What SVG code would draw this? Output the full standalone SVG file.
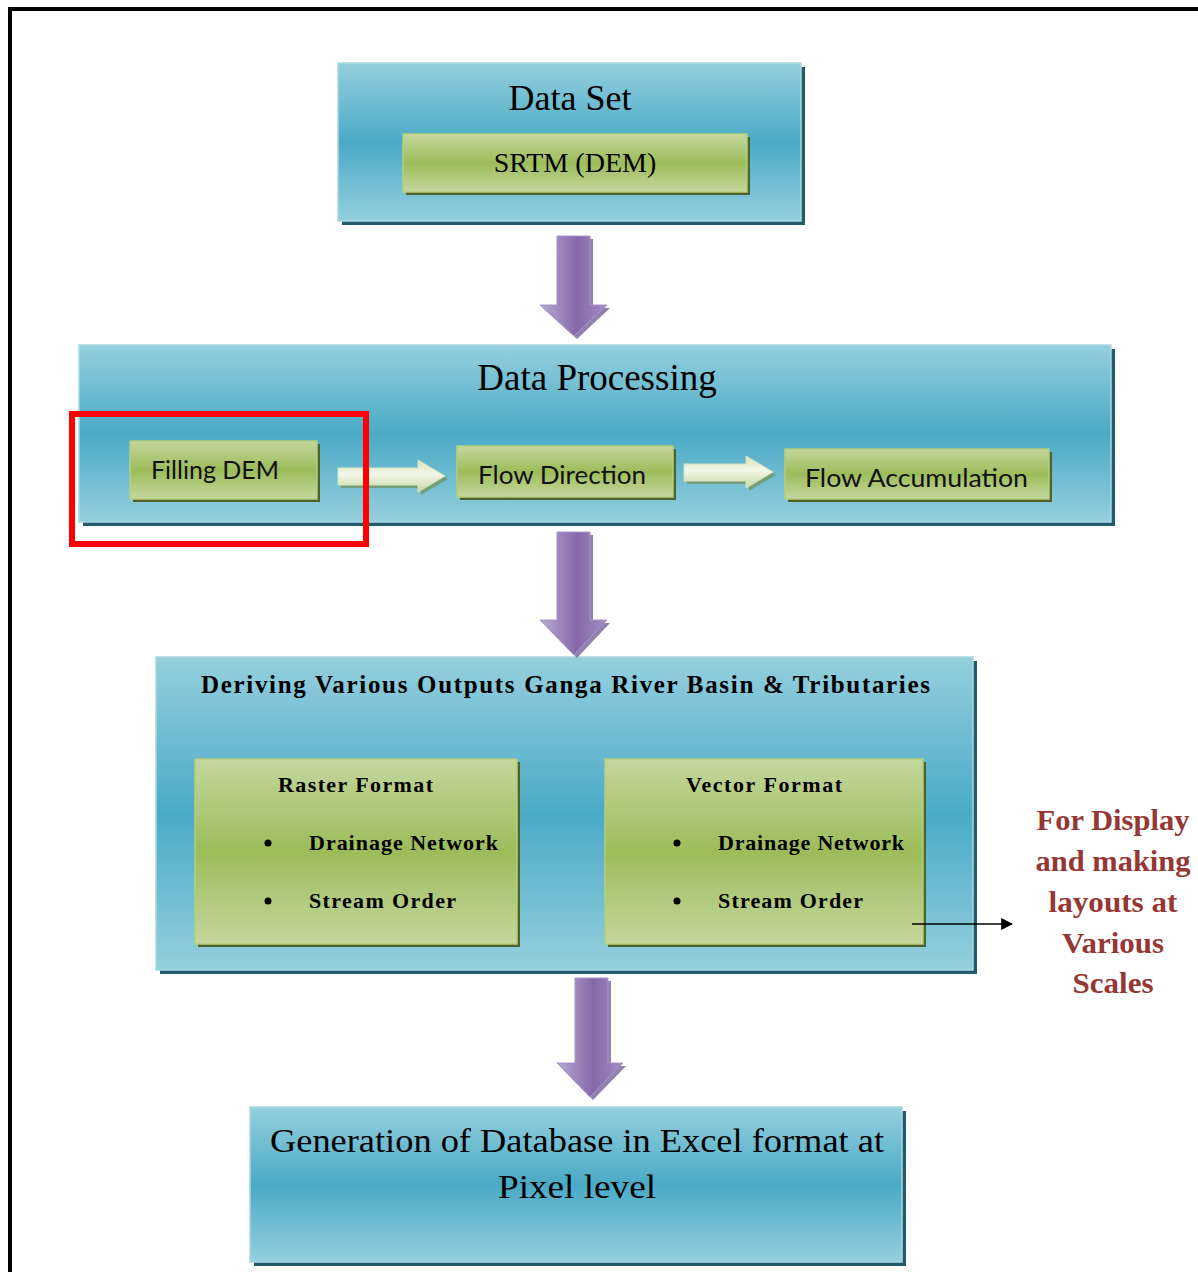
<svg xmlns="http://www.w3.org/2000/svg" width="1198" height="1272" viewBox="0 0 1198 1272">
<defs>
<linearGradient id="gBlue" x1="0" y1="0" x2="0" y2="1">
<stop offset="0" stop-color="#95cfde"/>
<stop offset="0.5" stop-color="#4aaac6"/>
<stop offset="1" stop-color="#95cfde"/>
</linearGradient>
<linearGradient id="gGreen" x1="0" y1="0" x2="0" y2="1">
<stop offset="0" stop-color="#c4d79e"/>
<stop offset="0.5" stop-color="#9cbc5a"/>
<stop offset="1" stop-color="#c4d79e"/>
</linearGradient>
<linearGradient id="gPurple" x1="0" y1="0" x2="1" y2="0">
<stop offset="0" stop-color="#b9a9d2"/>
<stop offset="0.55" stop-color="#8668aa"/>
<stop offset="1" stop-color="#a18ec4"/>
</linearGradient>
<linearGradient id="gLight" x1="0" y1="0" x2="0" y2="1">
<stop offset="0" stop-color="#d7e4bd"/>
<stop offset="0.45" stop-color="#f3f7ea"/>
<stop offset="1" stop-color="#c4d79e"/>
</linearGradient>
<marker id="mArrow" viewBox="0 0 10 10" refX="9" refY="5" markerWidth="12" markerHeight="12" orient="auto" markerUnits="userSpaceOnUse">
<path d="M0,0 L10,5 L0,10 z" fill="#000"/>
</marker>
</defs>
<style>
.blue{fill:url(#gBlue);stroke:#a9d7e4;stroke-width:1.5}
.bshadow{fill:#225b6a}
.green{fill:url(#gGreen);stroke:#b4cf7c;stroke-width:1.5}
.gshadow{fill:#4f6228}
.purple{fill:url(#gPurple);stroke:#a696c8;stroke-width:1}
.pshadow{fill:#6a5590;opacity:0.75}
.light{fill:url(#gLight);stroke:#d7e4bd;stroke-width:1}
.lshadow{fill:#6f8a3e;opacity:0.6}
.serif{font-family:"Liberation Serif","Times New Roman",serif;fill:#000}
.sans{font-family:Lato,"Liberation Sans",sans-serif;fill:#111}
.bold{font-weight:bold}
.red{font-family:"Liberation Serif","Times New Roman",serif;font-weight:bold;fill:#953735;font-size:29px}
</style>
<rect width="1198" height="1272" fill="#fff"/>
<path d="M10,1272 L10,9 L1198,9" fill="none" stroke="#000" stroke-width="4"/>

<g id="dataset">
<rect class="bshadow" x="342" y="67" width="463" height="158"/>
<rect class="blue" x="338" y="63" width="463" height="158"/>
<text class="serif" x="570" y="110" font-size="36" text-anchor="middle">Data Set</text>
</g>
<g id="srtm">
<rect class="gshadow" x="406" y="137" width="344" height="58"/>
<rect class="green" x="403" y="134" width="344" height="58"/>
<text class="serif" x="575" y="172" font-size="28" text-anchor="middle">SRTM (DEM)</text>
</g>

<g id="processing">
<rect class="bshadow" x="83" y="349" width="1032" height="177"/>
<rect class="blue" x="79" y="345" width="1032" height="177"/>
<text class="serif" x="597" y="390" font-size="37" text-anchor="middle">Data Processing</text>
</g>
<g id="filling">
<rect class="gshadow" x="133" y="444" width="187" height="58"/>
<rect class="green" x="130" y="441" width="187" height="58"/>
<text class="sans" x="151" y="479" font-size="25" textLength="128" lengthAdjust="spacingAndGlyphs">Filling DEM</text>
</g>
<g id="flowdir">
<rect class="gshadow" x="460" y="449" width="216" height="51"/>
<rect class="green" x="457" y="446" width="216" height="51"/>
<text class="sans" x="478" y="484" font-size="25" textLength="168" lengthAdjust="spacingAndGlyphs">Flow Direction</text>
</g>
<g id="flowacc">
<rect class="gshadow" x="788" y="452" width="264" height="50"/>
<rect class="green" x="785" y="449" width="264" height="50"/>
<text class="sans" x="805" y="487" font-size="25" textLength="223" lengthAdjust="spacingAndGlyphs">Flow Accumulation</text>
</g>

<g id="deriving">
<rect class="bshadow" x="160" y="661" width="817" height="313"/>
<rect class="blue" x="156" y="657" width="817" height="313"/>
<text class="serif bold" x="201" y="693" font-size="25" textLength="729" lengthAdjust="spacing">Deriving  Various  Outputs  Ganga River Basin  &amp;  Tributaries</text>
</g>
<g id="raster">
<rect class="gshadow" x="198" y="762" width="322" height="185"/>
<rect class="green" x="195" y="759" width="322" height="185"/>
<text class="serif bold" x="278" y="792" font-size="22" textLength="155" lengthAdjust="spacing">Raster Format</text>
<circle cx="268" cy="843" r="3.5" fill="#000"/>
<text class="serif bold" x="309" y="850" font-size="22" textLength="189" lengthAdjust="spacing">Drainage Network</text>
<circle cx="268" cy="901" r="3.5" fill="#000"/>
<text class="serif bold" x="309" y="908" font-size="22" textLength="147" lengthAdjust="spacing">Stream Order</text>
</g>
<g id="vector">
<rect class="gshadow" x="608" y="762" width="318" height="185"/>
<rect class="green" x="605" y="759" width="318" height="185"/>
<text class="serif bold" x="686" y="792" font-size="22" textLength="156" lengthAdjust="spacing">Vector Format</text>
<circle cx="677" cy="843" r="3.5" fill="#000"/>
<text class="serif bold" x="718" y="850" font-size="22" textLength="186" lengthAdjust="spacing">Drainage Network</text>
<circle cx="677" cy="901" r="3.5" fill="#000"/>
<text class="serif bold" x="718" y="908" font-size="22" textLength="145" lengthAdjust="spacing">Stream Order</text>
</g>
<g id="display">
<text class="red" x="1113" y="830" text-anchor="middle" textLength="153" lengthAdjust="spacingAndGlyphs">For Display</text>
<text class="red" x="1113" y="871" text-anchor="middle" textLength="155" lengthAdjust="spacingAndGlyphs">and making</text>
<text class="red" x="1113" y="912" text-anchor="middle" textLength="129" lengthAdjust="spacingAndGlyphs">layouts at</text>
<text class="red" x="1113" y="953" text-anchor="middle" textLength="102" lengthAdjust="spacingAndGlyphs">Various</text>
<text class="red" x="1113" y="993" text-anchor="middle" textLength="81" lengthAdjust="spacingAndGlyphs">Scales</text>
</g>
<g id="database">
<rect class="bshadow" x="254" y="1111" width="652" height="155"/>
<rect class="blue" x="250" y="1107" width="652" height="155"/>
<text class="serif" x="577" y="1152" font-size="34" text-anchor="middle" textLength="614" lengthAdjust="spacingAndGlyphs">Generation of Database in Excel format at</text>
<text class="serif" x="577" y="1198" font-size="34" text-anchor="middle" textLength="158" lengthAdjust="spacingAndGlyphs">Pixel level</text>
</g>

<g id="connectors">
<g id="arrow1">
<path class="pshadow" d="M560,239 L593,239 L593,308 L610,308 L577,339 L543,308 L560,308 z"/>
<path class="purple" d="M557,236 L590,236 L590,305 L607,305 L574,336 L540,305 L557,305 z"/>
</g>
<g id="arrow2">
<path class="pshadow" d="M560,535 L593,535 L593,623 L610,623 L577,658 L543,623 L560,623 z"/>
<path class="purple" d="M557,532 L590,532 L590,620 L607,620 L574,655 L540,620 L557,620 z"/>
</g>
<g id="arrow3">
<path class="pshadow" d="M578,981 L611,981 L611,1066 L626,1066 L593,1100 L560,1066 L578,1066 z"/>
<path class="purple" d="M575,978 L608,978 L608,1063 L623,1063 L590,1097 L557,1063 L575,1063 z"/>
</g>
<g id="arrowFill">
<path class="lshadow" d="M341,471 L421,471 L421,463 L448,479 L421,495 L421,488 L341,488 z"/>
<path class="light" d="M338,468 L418,468 L418,460 L445,476 L418,492 L418,485 L338,485 z"/>
</g>
<g id="arrowDir">
<path class="lshadow" d="M687,467 L749,467 L749,459 L776,475 L749,491 L749,484 L687,484 z"/>
<path class="light" d="M684,464 L746,464 L746,456 L773,472 L746,488 L746,481 L684,481 z"/>
</g>
<line x1="912" y1="924" x2="1012" y2="924" stroke="#000" stroke-width="1.5" marker-end="url(#mArrow)"/>
</g>

<rect id="highlight" x="72" y="414" width="294" height="130" fill="none" stroke="#ff0000" stroke-width="6"/>
</svg>
